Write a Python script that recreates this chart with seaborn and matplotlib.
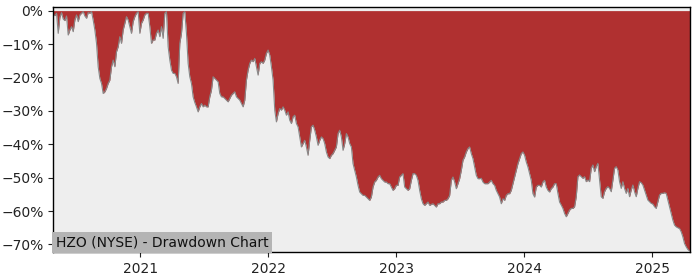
import numpy as np
import pandas as pd
import matplotlib
matplotlib.use("Agg")
import matplotlib.pyplot as plt
import seaborn as sns
from matplotlib.ticker import PercentFormatter
import matplotlib.dates as mdates

title_text = "HZO (NYSE) - Drawdown Chart"
start_date = "2020-04-27"
end_date = "2025-04-17"

dd_part1 = [
    -1.3, -1.5, -0.8, -6.8, -2.0, -0.6, -2.5, -3.0, -1.6, -7.3, -5.8, -4.8, -6.3, -2.8, -1.3, -3.3,
    -1.3, -0.8, -0.3, -1.6, -2.3, -0.6, -0.8, -0.3, -2.8, -5.8, -9.8, -16.8, -20.3, -21.8, -24.8, -24.3,
    -23.3, -21.8, -20.8, -16.8, -14.8, -16.8, -12.3, -10.8, -7.8, -9.8, -5.8, -3.8, -1.8, -2.8, -4.8, -6.8,
    -3.3, -1.8, -0.8, -0.3, -6.8, -3.8, -2.8, -1.3, -0.8, -0.8, -4.8, -9.8, -8.8, -8.8, -6.8, -5.8,
    -7.8, -4.8, -8.3, -0.8, -0.3, -10.8, -14.8, -17.8, -18.8, -18.8, -19.8, -21.8, -9.8, -6.8, -0.8, -0.3,
    -6.8, -15.8, -19.8, -21.8, -25.8, -27.5, -28.8, -30.3, -28.8, -27.8, -28.8, -28.3, -28.8, -28.8, -25.8, -23.8,
    -19.8, -20.3, -20.8, -21.3, -24.8, -25.8, -25.8, -26.3, -26.8, -27.3, -26.3, -25.3, -24.8, -24.3, -25.8, -26.3,
    -26.8, -27.8, -28.8, -26.8, -20.8, -17.8, -15.8,
]
dd_part2 = [
    -14.8, -15.3, -14.3, -16.8, -19.3, -15.8, -15.3, -15.8, -14.8, -12.8, -11.8, -13.3, -16.8, -20.8, -29.8, -33.3,
    -30.8, -29.3, -29.8, -28.8, -29.8, -31.3, -30.3, -32.8, -33.8, -31.8, -31.3, -33.8, -34.8, -37.8, -40.8, -39.8,
    -38.8, -40.8, -43.3, -38.8, -34.8, -34.3, -35.8, -37.8, -40.3, -38.8, -37.8, -38.3, -39.8, -42.3, -43.8, -44.3,
    -43.3, -42.8, -41.8, -40.8, -36.8, -35.8, -37.8, -41.8, -39.8, -36.8, -37.8, -39.8, -40.8, -45.8, -47.8, -49.8,
    -52.3, -54.3, -54.8, -55.3, -55.3, -55.8, -56.3, -56.8, -55.8, -52.8, -51.3, -50.8, -49.8, -49.3, -50.3, -50.8,
    -51.3, -51.3, -51.8, -51.8, -52.8, -53.8, -53.3, -52.3, -52.3, -49.8, -49.3, -48.8, -52.8, -53.3, -53.8, -53.3,
    -50.8, -48.8, -48.8, -49.3, -50.8, -53.8, -56.3, -57.8, -58.3, -57.8, -57.3, -58.3, -58.0, -57.8, -58.3, -58.8,
    -57.8, -57.8, -57.3, -57.3, -56.8, -56.8, -56.3, -55.3, -50.8, -49.8, -51.3, -53.3, -51.8, -50.3, -47.8, -44.8,
    -43.8, -42.3, -41.3, -40.8, -42.8, -44.3, -46.8, -49.3, -50.3, -50.3,
]
dd_part3 = [
    -50.2, -51.3, -51.8, -51.8, -51.8, -51.3, -50.8, -51.8, -52.3, -53.8, -54.8, -55.8, -57.8, -56.3, -56.8, -55.3,
    -54.8, -54.8, -53.8, -51.8, -49.8, -47.8, -45.8, -44.3, -42.8, -42.3, -43.3, -45.3, -46.8, -48.8, -50.8, -54.8,
    -55.8, -52.8, -52.3, -52.3, -52.8, -51.3, -50.8, -52.8, -53.8, -54.3, -53.3, -52.8, -51.8, -51.8, -54.7, -57.3,
    -58.2, -59.2, -60.7, -61.7, -60.7, -59.7, -59.2, -59.2, -58.7, -55.7, -49.7, -49.2, -49.7, -50.2, -49.7, -51.2,
    -50.7, -51.2, -47.2, -46.2, -48.2, -46.7, -45.7, -50.7, -55.7, -56.2, -54.2, -53.2, -52.7, -53.2, -54.2, -50.7,
    -47.2, -46.7, -47.7, -51.2, -53.2, -51.2, -53.2, -54.7, -53.2, -55.7, -53.7, -52.2, -54.2, -55.7, -53.2, -51.2,
    -51.5, -52.2, -53.7, -55.2, -56.7, -57.2, -57.7, -57.9, -58.7, -59.2, -57.2, -55.2, -54.7, -54.7, -54.5, -54.7,
    -56.7, -58.7, -60.7, -62.7, -64.2, -64.7, -65.0, -65.2, -66.2, -67.7, -69.7, -70.7, -71.5, -71.9,
]

drawdown = np.array(dd_part1 + dd_part2 + dd_part3)
dates = pd.date_range(start_date, end_date, periods=len(drawdown))
df = pd.DataFrame({"date": dates, "drawdown": drawdown})

sns.set_style("ticks")
plt.rcParams["font.family"] = ["DejaVu Sans"]

fig, ax = plt.subplots(figsize=(7, 2.8), dpi=100)
fig.subplots_adjust(left=0.076, right=0.985, top=0.974, bottom=0.1)
ax.set_facecolor("#eeeeee")

ax.fill_between(df["date"], df["drawdown"], 0, color="#b03030", linewidth=0)
sns.lineplot(data=df, x="date", y="drawdown", ax=ax, color="#888888", linewidth=0.8)

ax.set_xlim(df["date"].iloc[0], df["date"].iloc[-1])
ax.set_ylim(-72.25, 1.0)
ax.set_yticks(np.arange(-70, 1, 10))
ax.yaxis.set_major_formatter(PercentFormatter(xmax=100, decimals=0))
ax.xaxis.set_major_locator(mdates.YearLocator())
ax.xaxis.set_major_formatter(mdates.DateFormatter("%Y"))
ax.set_xlabel("")
ax.set_ylabel("")
ax.tick_params(labelsize=10, colors="#222222")
for s in ax.spines.values():
    s.set_visible(True)
    s.set_color("black")
    s.set_linewidth(1.0)

ax.text(0.004, 0.012, title_text, transform=ax.transAxes, fontsize=10, color="#111111",
        ha="left", va="bottom",
        bbox=dict(facecolor="#b4b4b4", edgecolor="none", pad=2.5))

fig.savefig("out.png", dpi=100)
